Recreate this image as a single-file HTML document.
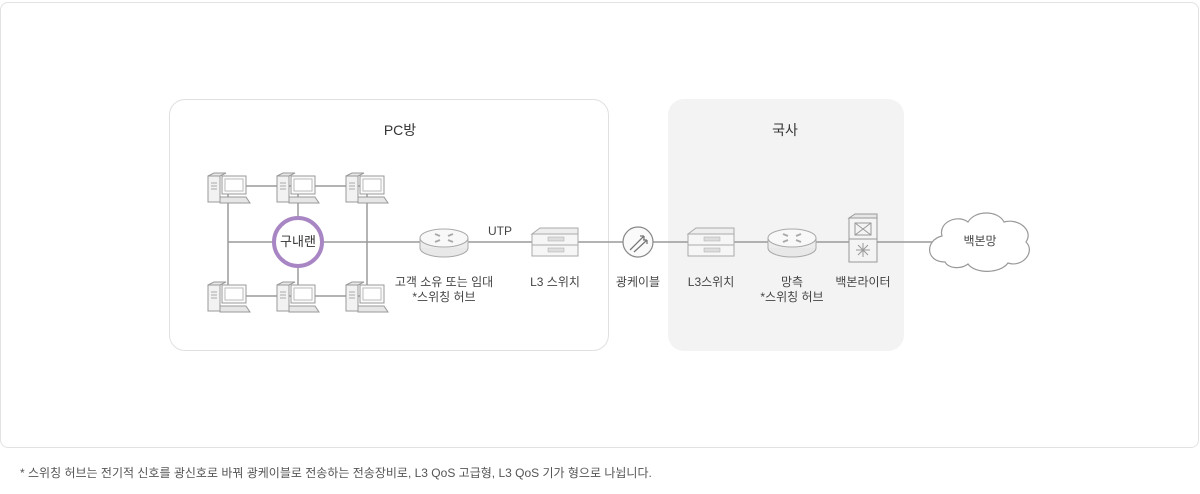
<!DOCTYPE html>
<html><head><meta charset="utf-8"><style>
body{margin:0;width:1200px;height:494px;background:#fff;font-family:"Liberation Sans","Noto Sans CJK KR",sans-serif;position:relative;overflow:hidden}
.t{position:absolute;font-size:12px;color:#444;text-align:center;line-height:15px}
</style></head><body>
<div style="position:absolute;left:0;top:2px;width:1197px;height:444px;border:1px solid #e2e2e2;border-radius:8px"></div>
<div style="position:absolute;left:169px;top:99px;width:438px;height:250px;border:1px solid #e0e0e0;border-radius:16px"></div>
<div style="position:absolute;left:668px;top:99px;width:236px;height:252px;background:#f3f3f3;border-radius:16px"></div>
<svg width="1200" height="494" style="position:absolute;left:0;top:0">
<defs>
<g id="pc">
<rect x="0" y="3" width="12" height="26" fill="#f2f2f2" stroke="#999" stroke-width="1"/>
<polygon points="0,3 6,0 18,0 12,3" fill="#e8e8e8" stroke="#999"/>
<line x1="3" y1="10" x2="9" y2="10" stroke="#aaa"/><line x1="3" y1="13" x2="9" y2="13" stroke="#aaa"/><line x1="3" y1="16" x2="9" y2="16" stroke="#aaa"/>
<rect x="14" y="3" width="24" height="18" fill="#fafafa" stroke="#999"/>
<rect x="17" y="6" width="18" height="12" fill="#fff" stroke="#bbb"/>
<polygon points="12,24 38,24 42,30 12,30" fill="#e6e6e6" stroke="#999"/>
</g>
<g id="router">
<ellipse cx="0" cy="8" rx="24" ry="9" fill="#e8e8e8" stroke="#aaa"/>
<rect x="-24" y="-2" width="48" height="10" fill="#ececec"/>
<line x1="-24" y1="-2" x2="-24" y2="8" stroke="#aaa"/><line x1="24" y1="-2" x2="24" y2="8" stroke="#aaa"/>
<ellipse cx="0" cy="-2" rx="24" ry="9" fill="#f8f8f8" stroke="#aaa"/>
<path d="M-9,-6 l5,2 M9,-6 l-5,2 M-9,2 l5,-2 M9,2 l-5,-2" stroke="#aaa" stroke-width="2"/>
</g>
<g id="sw">
<polygon points="0,6 8,0 46,0 46,6" fill="#eee" stroke="#aaa"/>
<rect x="0" y="6" width="46" height="11" fill="#f6f6f6" stroke="#aaa"/>
<rect x="0" y="17" width="46" height="11" fill="#f6f6f6" stroke="#aaa"/>
<rect x="16" y="9" width="16" height="4" fill="#ddd" stroke="#aaa" stroke-width=".5"/>
<rect x="16" y="20" width="16" height="4" fill="#ddd" stroke="#aaa" stroke-width=".5"/>
</g>
</defs>
<g stroke="#9a9a9a" stroke-width="1.5" fill="none">
<line x1="228" y1="186" x2="367" y2="186"/><line x1="228" y1="296" x2="367" y2="296"/>
<line x1="228" y1="190" x2="228" y2="296"/><line x1="367" y1="190" x2="367" y2="296"/>
<line x1="298" y1="190" x2="298" y2="296"/>
<line x1="228" y1="242" x2="1000" y2="242"/>
</g>
<use href="#pc" x="208" y="173"/><use href="#pc" x="277" y="173"/><use href="#pc" x="346" y="173"/>
<use href="#pc" x="208" y="282"/><use href="#pc" x="277" y="282"/><use href="#pc" x="346" y="282"/>
<circle cx="298" cy="242" r="24" fill="#fff" stroke="#a886c4" stroke-width="4"/>
<use href="#router" x="444" y="240"/>
<use href="#sw" x="532" y="228"/>
<use href="#sw" x="688" y="228"/>
<use href="#router" x="792" y="240"/>
<circle cx="638" cy="242" r="15" fill="#fafafa" stroke="#888" stroke-width="1.2"/>
<path d="M630,250 l14,-14 M634,252 l13,-12 M644,236 l-4,0 M644,236 l0,4 M647,240 l-4,0 M647,240 l0,4" stroke="#777" stroke-width="1.3"/>
<rect x="849" y="218" width="28" height="44" fill="#f4f4f4" stroke="#999"/>
<polygon points="849,218 855,214 877,214 877,218" fill="#e6e6e6" stroke="#999"/>
<line x1="849" y1="239" x2="877" y2="239" stroke="#999"/>
<rect x="855" y="223" width="16" height="12" fill="none" stroke="#999"/>
<path d="M855,223 l16,12 M871,223 l-16,12 M863,243 v14 M856,250 h14 M858,245 l10,10 M868,245 l-10,10" stroke="#999"/>
<path d="M945,262 C925,262 925,240 942,236 C938,222 958,214 968,222 C975,210 998,210 1004,222 C1018,218 1034,230 1026,242 C1036,252 1022,268 1008,263 C1000,274 975,274 968,264 C960,270 948,268 945,262 Z" fill="#fff" stroke="#999" stroke-width="1.2"/>
</svg>
<div class="t" style="left:360px;top:123px;width:80px;font-size:14px;color:#333">PC방</div>
<div class="t" style="left:745px;top:123px;width:80px;font-size:14px;color:#333">국사</div>
<div class="t" style="left:268px;top:234px;width:60px;font-size:13px;color:#333">구내랜</div>
<div class="t" style="left:480px;top:224px;width:40px">UTP</div>
<div class="t" style="left:384px;top:275px;width:120px">고객 소유 또는 임대<br>*스위칭 허브</div>
<div class="t" style="left:515px;top:275px;width:80px">L3 스위치</div>
<div class="t" style="left:598px;top:275px;width:80px">광케이블</div>
<div class="t" style="left:671px;top:275px;width:80px">L3스위치</div>
<div class="t" style="left:742px;top:275px;width:100px">망측<br>*스위칭 허브</div>
<div class="t" style="left:823px;top:275px;width:80px">백본라이터</div>
<div class="t" style="left:940px;top:234px;width:80px">백본망</div>
<div class="t" style="left:20px;top:466px;text-align:left;color:#555;white-space:nowrap">* 스위칭 허브는 전기적 신호를 광신호로 바꿔 광케이블로 전송하는 전송장비로, L3 QoS 고급형, L3 QoS 기가 형으로 나뉩니다.</div>
</body></html>
